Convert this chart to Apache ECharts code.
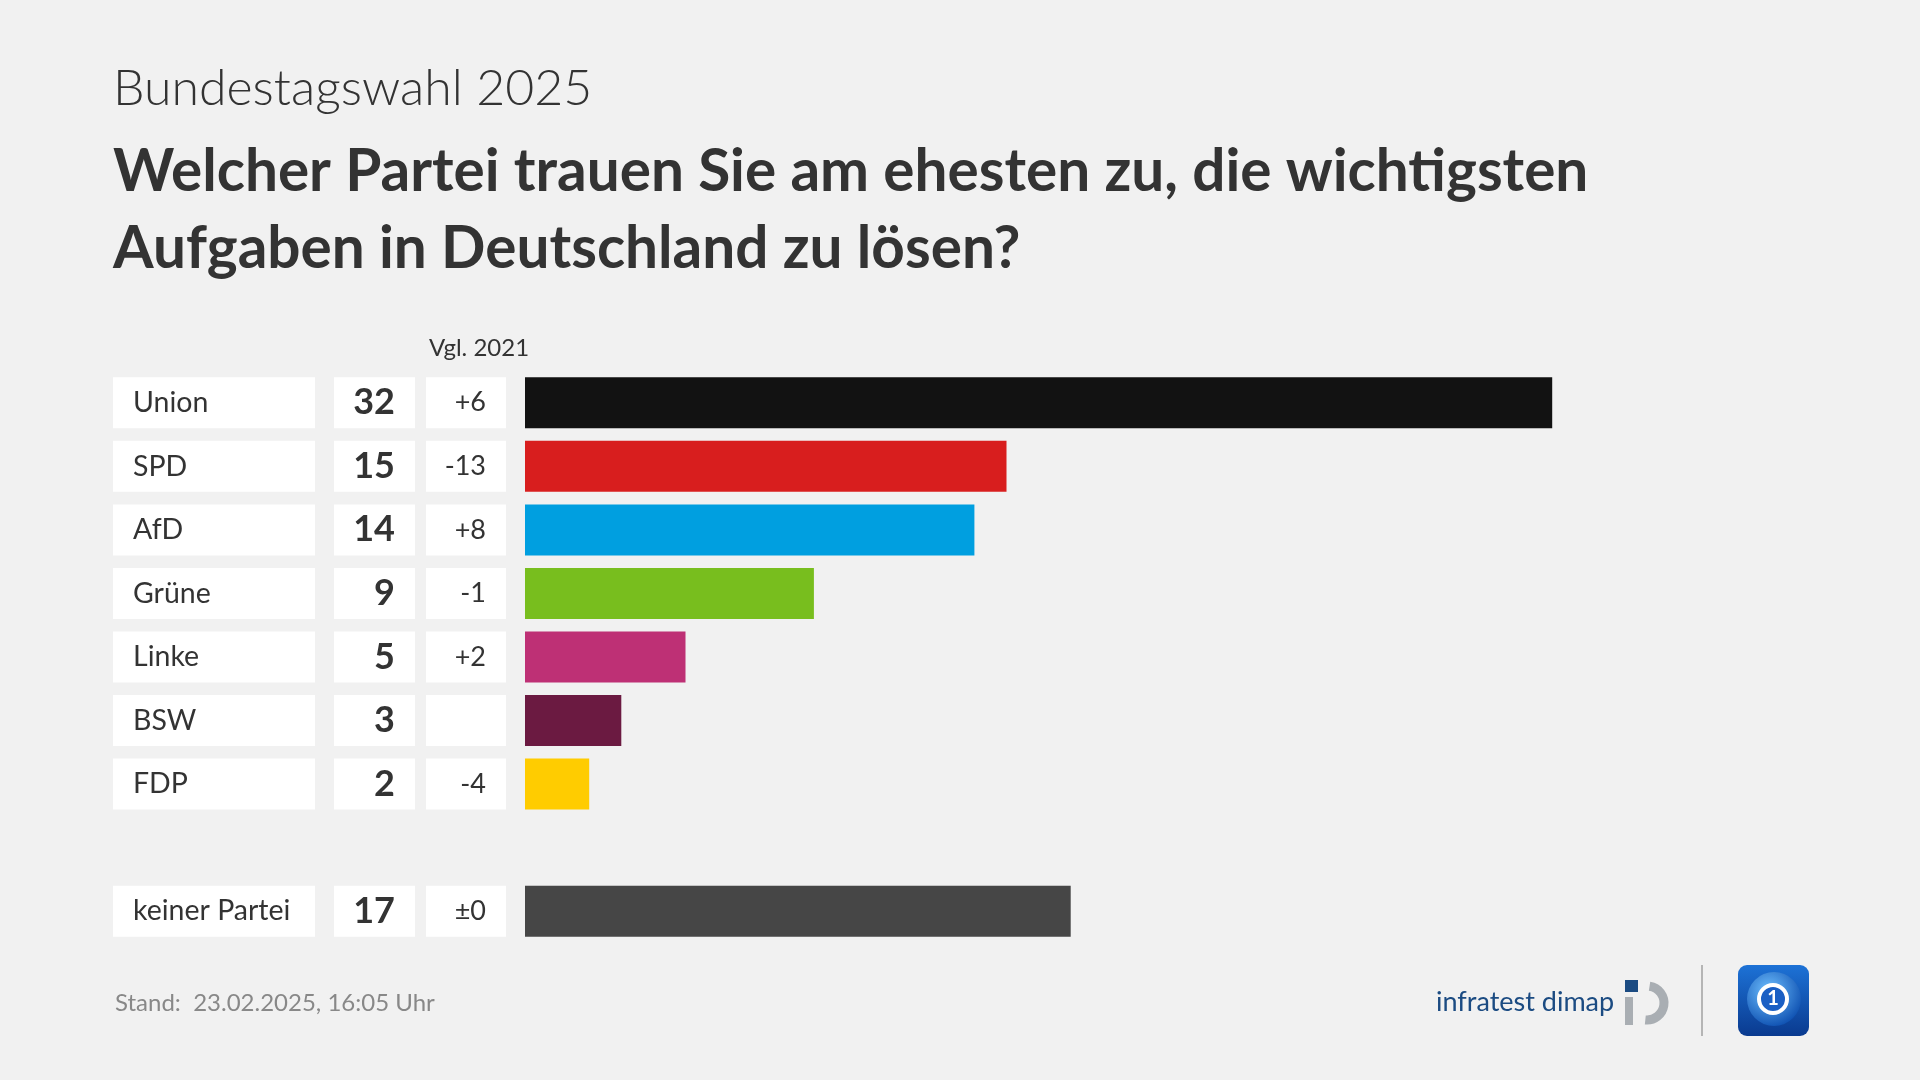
<!DOCTYPE html>
<html>
<head>
<meta charset="utf-8">
<script src="https://cdn.jsdelivr.net/npm/echarts@6/dist/echarts.min.js"></script>
<style>
html,body{margin:0;padding:0;background:#f1f1f1;}
#c{width:1920px;height:1080px;}
</style>
</head>
<body>
<div id="c"></div>
<script>
var parties = ['Union', 'SPD', 'AfD', 'Grüne', 'Linke', 'BSW', 'FDP', '', 'keiner Partei'];
var values = [32, 15, 14, 9, 5, 3, 2, null, 17];
var changes = ['+6', '-13', '+8', '-1', '+2', '', '-4', '', '±0'];
var colors = ['#121212', '#d81e1e', '#009fe0', '#78be1e', '#be3075', '#6b1a41', '#ffcc00', '#ffffff', '#464646'];
var subtitle = 'Bundestagswahl 2025';
var title = 'Welcher Partei trauen Sie am ehesten zu, die wichtigsten\nAufgaben in Deutschland zu lösen?';
var compareLabel = 'Vgl. 2021';
var footer = 'Stand:  23.02.2025, 16:05 Uhr';
var source = 'infratest dimap';

var FONT = 'Lato';
var chart = echarts.init(document.getElementById('c'));
var H = 51;
var box = {backgroundColor: '#ffffff', height: H, lineHeight: H};
function tok(o) { return Object.assign({}, box, o); }

chart.setOption({
  backgroundColor: '#f1f1f1',
  textStyle: {fontFamily: FONT},
  title: [
    {text: subtitle, left: 108, top: 56,
     textStyle: {fontFamily: FONT, fontWeight: 300, fontSize: 50, color: '#333333', lineHeight: 56}},
    {text: title, left: 108, top: 129,
     textStyle: {fontFamily: FONT, fontWeight: 'bold', fontSize: 58.5, color: '#333333', lineHeight: 77}},
    {text: compareLabel, left: 424, top: 329,
     textStyle: {fontFamily: FONT, fontWeight: 'normal', fontSize: 24, color: '#333333', lineHeight: 28}},
    {text: footer, left: 110, top: 984,
     textStyle: {fontFamily: FONT, fontWeight: 'normal', fontSize: 24, color: '#888888', lineHeight: 28}},
    {text: source, left: 1431, top: 981,
     textStyle: {fontFamily: FONT, fontWeight: 'normal', fontSize: 27, color: '#1b4b82', lineHeight: 32}}
  ],
  grid: {left: 525, right: 111, top: 371, height: 572, containLabel: false},
  xAxis: {type: 'value', min: 0, max: 40, show: false},
  yAxis: {
    type: 'category', inverse: true, data: parties,
    axisLine: {show: false}, axisTick: {show: false}, splitLine: {show: false},
    axisLabel: {
      interval: 0, margin: 19,
      formatter: function (v, i) {
        if (!v) return '';
        var ch = changes[i] === '' ? ' ' : changes[i];
        return '{lp| }{l|' + v + '}{g1| }{v|' + values[i] + '}{vp| }{g2| }{c|' + ch + '}{cp| }';
      },
      rich: {
        lp: tok({width: 20, align: 'left'}),
        l: tok({width: 182, align: 'left', fontSize: 28.5, color: '#333333', fontFamily: FONT}),
        g1: {width: 19, height: H, lineHeight: H, align: 'left'},
        v: tok({width: 61, align: 'right', fontSize: 36, fontWeight: 'bold', color: '#333333', fontFamily: FONT}),
        vp: tok({width: 20, align: 'right'}),
        g2: {width: 11, height: H, lineHeight: H, align: 'right'},
        c: tok({width: 60, align: 'right', fontSize: 27, color: '#333333', fontFamily: FONT}),
        cp: tok({width: 20, align: 'right'})
      }
    }
  },
  series: [{
    type: 'bar', barWidth: H, silent: true,
    data: values.map(function (v, i) { return v == null ? '-' : {value: v, itemStyle: {color: colors[i]}}; })
  }],
  graphic: [
    // infratest dimap mark
    {type: 'rect', shape: {x: 1625, y: 980, width: 13, height: 12}, style: {fill: '#1b4b82'}},
    {type: 'rect', shape: {x: 1625, y: 997, width: 8, height: 28}, style: {fill: '#a9aeb3'}},
    {type: 'arc', shape: {cx: 1647, cy: 1003, r: 17, startAngle: -Math.PI / 2 + 0.15, endAngle: Math.PI / 2 + 0.1},
     style: {stroke: '#a9aeb3', lineWidth: 9, fill: null}},
    // separator
    {type: 'line', shape: {x1: 1702, y1: 965, x2: 1702, y2: 1036}, style: {stroke: '#b5b5b5', lineWidth: 2}},
    // tagesschau logo
    {type: 'rect', shape: {x: 1738, y: 965, width: 71, height: 71, r: 9},
     style: {fill: new echarts.graphic.LinearGradient(0, 0, 0, 1, [{offset: 0, color: '#1d72d6'}, {offset: 1, color: '#0a3a8f'}])}},
    {type: 'circle', shape: {cx: 1774, cy: 999, r: 27},
     style: {fill: new echarts.graphic.RadialGradient(0.4, 0.35, 0.7, [{offset: 0, color: '#6fc0ff'}, {offset: 1, color: '#0d4fb0'}])}},
    {type: 'circle', shape: {cx: 1773, cy: 999, r: 14}, style: {fill: '#1a5fc4', stroke: '#ffffff', lineWidth: 4}},
    {type: 'text', style: {x: 1773, y: 999, text: '1', fill: '#ffffff', font: 'bold 20px Lato', textAlign: 'center', textVerticalAlign: 'middle'}}
  ]
});
</script>
</body>
</html>
